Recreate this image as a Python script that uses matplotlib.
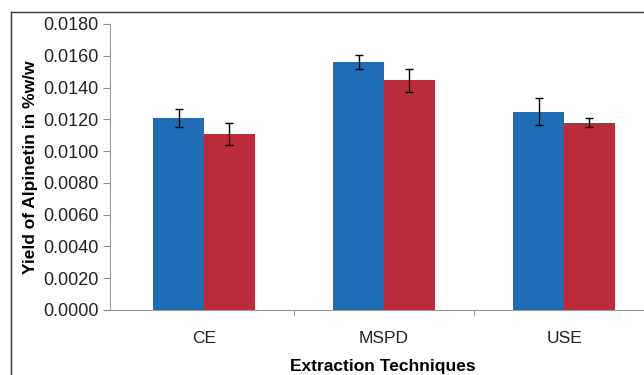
import matplotlib
matplotlib.use("Agg")
import matplotlib.pyplot as plt
import numpy as np
from matplotlib.lines import Line2D

plt.rcParams["font.family"] = ["Liberation Sans", "DejaVu Sans"]

techniques = ["CE", "MSPD", "USE"]
series_a = [0.01208, 0.01562, 0.01248]
series_a_err = [0.00055, 0.00045, 0.00085]
series_b = [0.01108, 0.01445, 0.01180]
series_b_err = [0.00068, 0.00070, 0.00030]

W, H = 644, 375
fig = plt.figure(figsize=(W / 100, H / 100), dpi=100, facecolor="white")

# axes placed in pixel terms: y-axis at x=110, zero at y=310, 0.018 at y=24
left, right = 110, 644
bottom, top = 310, 24
aw, ah = right - left, bottom - top
ax = fig.add_axes([left / W, (H - bottom) / H, aw / W, ah / H])

x = np.arange(len(techniques))
bw = 0.283
ax.bar(x - bw / 2, series_a, bw, color="#1f6db5", yerr=series_a_err,
       error_kw=dict(ecolor="black", elinewidth=1, capsize=3, capthick=1))
ax.bar(x + bw / 2, series_b, bw, color="#ba2b3b", yerr=series_b_err,
       error_kw=dict(ecolor="black", elinewidth=1, capsize=3, capthick=1))

# category spacing ~180 px, first centre at x=204; right end cut off by the image
ax.set_xlim((left - 204) / 180, (right - 204) / 180)
ax.set_ylim(0, 0.018)
yt = np.arange(0, 0.0181, 0.002)
ax.set_yticks(yt)
ax.set_yticklabels([f"{v:.4f}" for v in yt], fontsize=13, color="#222222")
ax.set_xticks(x)
ax.set_xticklabels(techniques, fontsize=12.5, color="#222222")
ax.set_xticks([0.5, 1.5], minor=True)
ax.tick_params(axis="x", which="major", length=0, pad=15)
ax.tick_params(axis="x", which="minor", length=4, direction="out", color="#888888")
ax.tick_params(axis="y", length=5, direction="out", color="#888888", pad=3)

for s in ["top", "right"]:
    ax.spines[s].set_visible(False)
ax.spines["left"].set_color("#999999")
ax.spines["bottom"].set_color("#999999")

ax.set_ylabel("Yield of Alpinetin in %w/w", fontsize=12.5, fontweight="bold")
ax.yaxis.set_label_coords((31 - left) / aw, 0.5)
ax.yaxis.label.set_va("center")
ax.set_xlabel("Extraction Techniques", fontsize=12.5, fontweight="bold")
ax.xaxis.set_label_coords((383 - left) / aw, -(366 - bottom) / ah)
ax.xaxis.label.set_va("center")

# outer frame (partially cropped)
fig.add_artist(Line2D([11 / W, 1], [(H - 12) / H] * 2, color="#333333", lw=1, transform=fig.transFigure))
fig.add_artist(Line2D([11 / W] * 2, [0, (H - 12) / H], color="#333333", lw=1, transform=fig.transFigure))

fig.savefig("out.png", dpi=100, facecolor="white")
